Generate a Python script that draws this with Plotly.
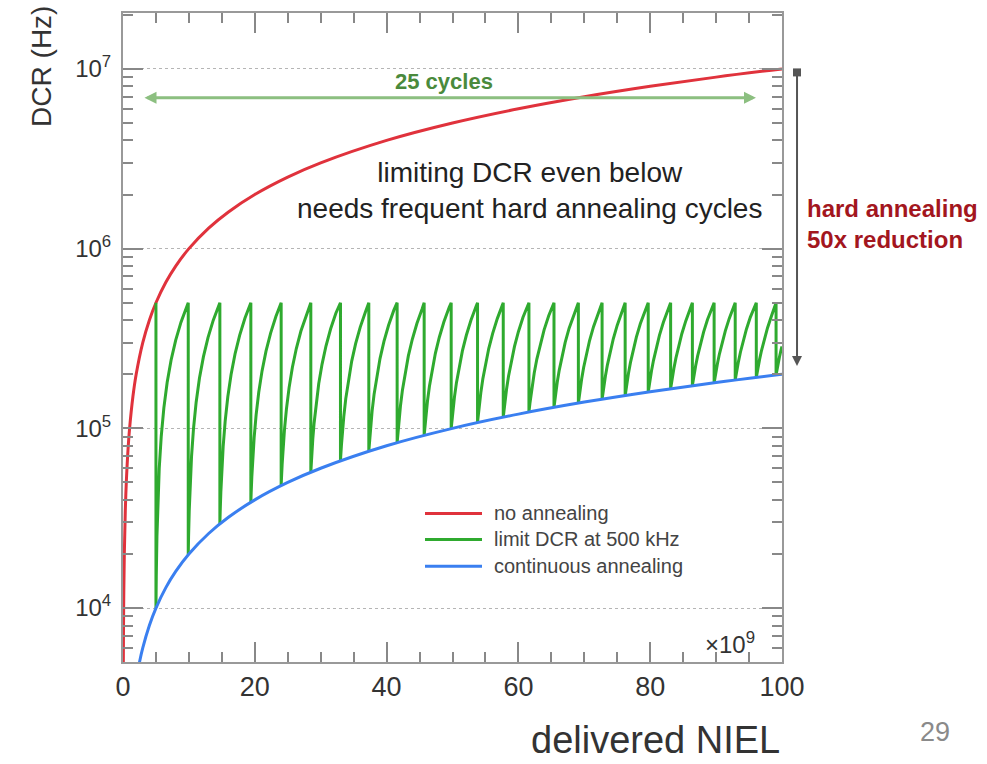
import plotly.graph_objects as go

# ---------------- data ----------------
# "no annealing": DCR grows linearly with delivered NIEL (x in units of 1e9)
red_x = [0.03, 0.05, 0.1, 0.2, 0.35, 0.5, 0.75, 1.0, 1.5, 2.0, 3.0, 4.0, 5.0, 6.5, 8.0,
         10, 13, 16, 20, 25, 30, 40, 50, 60, 70, 80, 90, 100]
red_dcr = [3e3, 5e3, 1e4, 2e4, 3.5e4, 5e4, 7.5e4, 1e5, 1.5e5, 2e5, 3e5, 4e5, 5e5, 6.5e5, 8e5,
           1e6, 1.3e6, 1.6e6, 2e6, 2.5e6, 3e6, 4e6, 5e6, 6e6, 7e6, 8e6, 9e6, 1e7]

# "continuous annealing"
blue_x = [2.0, 2.5, 3.0, 4.0, 5.0, 6.5, 8.0, 10, 13, 16, 20, 25, 30, 40, 50, 60, 70, 80, 90, 100]
blue_dcr = [4e3, 5e3, 6e3, 8e3, 1e4, 1.3e4, 1.6e4, 2e4, 2.6e4, 3.2e4, 4e4, 5e4, 6e4, 8e4,
            1e5, 1.2e5, 1.4e5, 1.6e5, 1.8e5, 2e5]

# "limit DCR at 500 kHz": hard-annealing positions and DCR right after each anneal
anneal_x = [5.0, 9.9, 14.7, 19.4, 24.0, 28.5, 33.0, 37.3, 41.6, 45.7, 49.8, 53.8, 57.7,
            61.6, 65.4, 69.1, 72.7, 76.2, 79.7, 83.1, 86.4, 89.7, 92.9, 96.1, 99.1]
trough_dcr = [1.00e4, 1.98e4, 2.94e4, 3.88e4, 4.80e4, 5.71e4, 6.59e4, 7.46e4, 8.31e4,
              9.15e4, 9.96e4, 1.08e5, 1.15e5, 1.23e5, 1.31e5, 1.38e5, 1.45e5, 1.52e5,
              1.59e5, 1.66e5, 1.73e5, 1.79e5, 1.86e5, 1.92e5, 1.98e5]
limit_dcr = 5e5
# shape of each regrowth after an anneal (offset in x, DCR gained)
rise_dx = [0.05, 0.15, 0.3, 0.5, 0.8, 1.2, 1.7, 2.3, 3.0, 3.8]
rise_ddcr = [5e3, 1.5e4, 3e4, 5e4, 8e4, 1.2e5, 1.7e5, 2.3e5, 3.0e5, 3.8e5]
green_end_x = 100
green_end_dcr = 2.85e5

x_tick_vals = [0, 20, 40, 60, 80, 100]
x_tick_text = ["0", "20", "40", "60", "80", "100"]
y_tick_vals = [1e4, 1e5, 1e6, 1e7]
y_tick_text = ["10<sup>4</sup>", "10<sup>5</sup>", "10<sup>6</sup>", "10<sup>7</sup>"]

series_names = ["no annealing", "limit DCR at 500 kHz", "continuous annealing"]
series_colors = ["#e0323c", "#2faa2f", "#3a7ff0"]

# ---------------- build green sawtooth from read values ----------------
green_x, green_y = [], []
for i, xa in enumerate(anneal_x):
    t = trough_dcr[i]
    green_x += [xa, xa]
    green_y += [limit_dcr, t]
    last = i + 1 >= len(anneal_x)
    x_next = green_end_x if last else anneal_x[i + 1]
    for dx, dd in zip(rise_dx, rise_ddcr):
        if xa + dx < x_next - 0.1:
            green_x.append(xa + dx)
            green_y.append(t + dd)
    green_x.append(x_next)
    green_y.append(green_end_dcr if last else limit_dcr)

FONT = "Liberation Sans, Arial, Helvetica, sans-serif"

fig = go.Figure()
fig.add_trace(go.Scatter(x=red_x, y=red_dcr, mode="lines", name=series_names[0],
                         line=dict(color=series_colors[0], width=3, shape="spline")))
fig.add_trace(go.Scatter(x=green_x, y=green_y, mode="lines", name=series_names[1],
                         line=dict(color=series_colors[1], width=3)))
fig.add_trace(go.Scatter(x=blue_x, y=blue_dcr, mode="lines", name=series_names[2],
                         line=dict(color=series_colors[2], width=3, shape="spline")))

y_minor = [k * 10 ** d for d in range(3, 8) for k in range(2, 10)]

fig.update_layout(
    width=987, height=764,
    margin=dict(l=123, r=205, t=11, b=102),
    paper_bgcolor="white", plot_bgcolor="white",
    showlegend=False,
    font=dict(family=FONT, color="#333"),
    xaxis=dict(range=[0, 100], tickvals=x_tick_vals, ticktext=x_tick_text,
               ticks="inside", ticklen=20, tickwidth=1.5, tickcolor="#888",
               showline=True, linecolor="#999", linewidth=2, mirror="allticks",
               showgrid=False, zeroline=False,
               tickfont=dict(size=27, color="#333"),
               minor=dict(dtick=5, tick0=0, ticks="inside", ticklen=10,
                          tickwidth=1.5, tickcolor="#888", showgrid=False)),
    yaxis=dict(type="log", range=[3.700, 7.311], tickvals=y_tick_vals, ticktext=y_tick_text,
               ticks="inside", ticklen=20, tickwidth=1.5, tickcolor="#888",
               showline=True, linecolor="#999", linewidth=2, mirror="allticks",
               showgrid=True, gridcolor="#b5b5b5", griddash="dot", gridwidth=1,
               zeroline=False, ticklabelstandoff=5,
               tickfont=dict(size=24, color="#333"),
               minor=dict(tickvals=y_minor, ticks="inside", ticklen=10,
                          tickwidth=1.5, tickcolor="#888", showgrid=False)),
)

ann = []
# axis titles
ann.append(dict(text="DCR (Hz)", xref="paper", yref="paper", x=-0.1229, y=0.917,
                textangle=-90, showarrow=False, font=dict(size=28, color="#333"),
                xanchor="center", yanchor="middle"))
ann.append(dict(text="delivered NIEL", xref="paper", yref="paper", x=1.0, y=-0.1198,
                showarrow=False, font=dict(size=38, color="#333"),
                xanchor="right", yanchor="middle"))
ann.append(dict(text="×10<sup>9</sup>", xref="paper", yref="paper", x=0.962, y=0.03,
                showarrow=False, font=dict(size=24, color="#333"),
                xanchor="right", yanchor="middle"))
ann.append(dict(text="29", xref="paper", yref="paper", x=1.232, y=-0.1075,
                showarrow=False, font=dict(size=27, color="#8a8a8a"),
                xanchor="center", yanchor="middle"))
# in-plot texts
ann.append(dict(text="<b>25 cycles</b>", xref="x", yref="y", x=48.7, y=6.928,
                showarrow=False, font=dict(size=22, color="#4a8a3c"),
                xanchor="center", yanchor="middle"))
ann.append(dict(text="", xref="x", yref="y", x=96.05, y=6.839, ax=-613, ay=0,
                showarrow=True, arrowside="end+start", arrowhead=2, startarrowhead=2,
                arrowsize=0.8, startarrowsize=0.8, arrowwidth=3,
                arrowcolor="#8cbf80", standoff=0, startstandoff=0))
ann.append(dict(text="limiting DCR even below<br>needs frequent hard annealing cycles",
                xref="paper", yref="paper", x=(529.5 - 123) / 659, y=0.7258,
                showarrow=False, font=dict(size=28, color="#222"), align="center",
                xanchor="center", yanchor="middle"))
ann.append(dict(text="<b>hard annealing<br>50x reduction</b>", xref="paper", yref="paper",
                x=1.0349, y=0.675, showarrow=False, font=dict(size=24, color="#a3161e"),
                align="left", xanchor="left", yanchor="middle"))
ann.append(dict(text="", xref="paper", yref="paper", x=1.0228, y=(662 - 365) / 651,
                ax=0, ay=-295, showarrow=True, arrowside="end+start", arrowhead=2,
                startarrowhead=7, arrowsize=1.0, startarrowsize=1.0, arrowwidth=2,
                arrowcolor="#555", standoff=0, startstandoff=0))

# legend (drawn manually to match the long ROOT line samples)
leg_y = [(662 - 513) / 651, (662 - 539) / 651, (662 - 566) / 651]
shapes = []
for name, col, yy in zip(series_names, series_colors, leg_y):
    shapes.append(dict(type="line", xref="paper", yref="paper",
                       x0=(425 - 123) / 659, x1=(482 - 123) / 659, y0=yy, y1=yy,
                       line=dict(color=col, width=3)))
    ann.append(dict(text=name, xref="paper", yref="paper", x=(492 - 123) / 659, y=yy,
                    showarrow=False, font=dict(size=20, color="#444"),
                    xanchor="left", yanchor="middle"))

fig.update_layout(annotations=ann, shapes=shapes)
fig.write_html("out.html",
               config={"displayModeBar": False},
               post_script="document.body.style.margin='0';"
                           "document.body.style.overflow='hidden';")
